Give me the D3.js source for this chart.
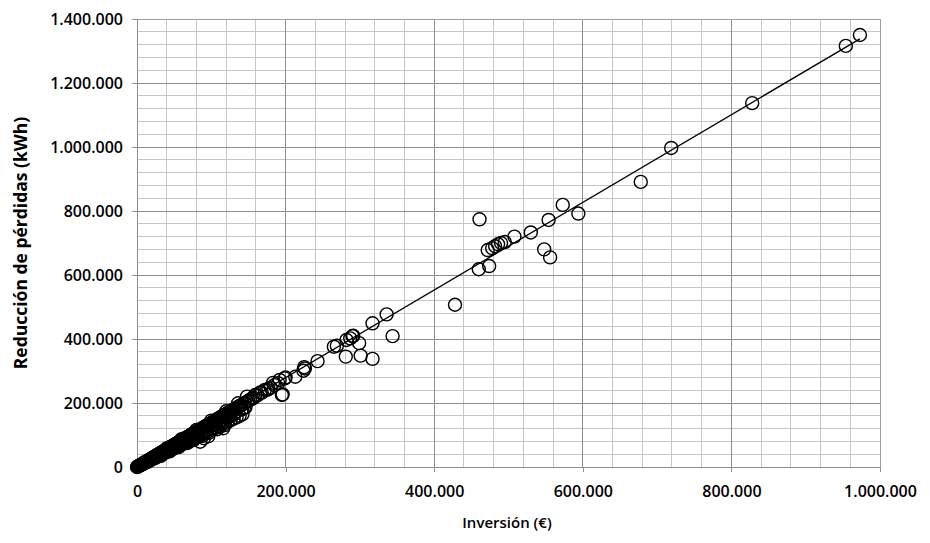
<!DOCTYPE html>
<html>
<head>
<meta charset="utf-8">
<script src="https://cdn.jsdelivr.net/npm/d3@7"></script>
<style>
  html, body { margin: 0; padding: 0; background: #fff; }
  svg { display: block; font-family: "Open Sans", "Noto Sans", sans-serif; }
</style>
</head>
<body>
<svg id="chart" width="930" height="543"></svg>
<script>
// ---- Data ----
const xTickValues = [0, 200000, 400000, 600000, 800000, 1000000];
const yTickValues = [0, 200000, 400000, 600000, 800000, 1000000, 1200000, 1400000];
const xTitle = "Inversión (€)";
const yTitle = "Reducción de pérdidas (kWh)";

// Inversión (€) and Reducción de pérdidas (kWh), in thousands
const inversionK = [
  0, 0.5, 1, 2, 3, 4, 5, 5, 6, 7, 8, 8, 9, 10, 10, 11, 12, 12, 13, 14, 15, 15, 16, 17, 18, 18, 19, 20, 20,
  21, 22, 23, 23, 24, 25, 25, 26, 27, 28, 28, 29, 30, 30, 31, 32, 33, 33, 34, 35, 35, 36, 37, 38, 38, 39,
  40, 40, 41, 42, 43, 43, 44, 45, 45, 46, 47, 48, 48, 49, 50, 50, 51, 52, 53, 53, 54, 55, 55, 56, 57, 58,
  58, 59, 60, 60, 61, 62, 63, 63, 64, 65, 65, 66, 67, 68, 68, 69, 70, 70, 71, 72, 73, 73, 74, 75, 75, 76,
  77, 78, 78, 79, 80, 80, 81, 82, 83, 83, 84, 85, 85, 86, 87, 88, 88, 89, 90, 90, 91, 92, 93, 93, 94, 95,
  96, 97, 98, 99, 100, 100, 102, 103, 104, 105, 106, 107, 108, 109, 110, 110, 112, 112, 113, 114, 115, 115,
  116, 117, 118, 119, 120, 121, 122, 123, 125, 125, 126, 127, 128, 130, 130, 132, 133, 135, 136, 137, 138,
  140, 141, 143, 145, 146, 148, 148, 150, 152, 155, 157, 159, 162, 166, 168, 172, 175, 177, 180, 183, 185,
  190, 192, 195, 196, 199, 200, 213, 224, 225, 226, 243, 265, 269, 281, 282, 287, 290, 291, 299, 301, 317,
  317, 336, 344, 428, 460, 461, 474, 472, 478, 482, 486, 490, 495, 508, 530, 548, 554, 556, 573, 594, 678,
  719, 828, 954, 973,
  22, 26, 30, 34, 38, 42, 46, 50, 54, 58, 62, 66, 70, 74, 78, 82, 86, 90, 94, 98, 102, 106, 110, 114, 118,
  122, 126, 130, 134, 138, 142, 32, 44, 56, 68, 76, 88, 97, 108, 118, 40, 60, 80, 100, 120,
  64, 72, 84, 92, 104, 112, 124, 132, 144
];
const reduccionK = [
  0, 0.3, 1.5, 2.5, 4, 5, 7, 6, 8, 9, 11, 10, 12, 13, 14, 15, 16, 14, 18, 19, 20, 17, 22, 23, 24, 21, 26, 27, 25,
  29, 30, 31, 27, 33, 34, 31, 36, 37, 38, 34, 40, 41, 37, 43, 44, 45, 40, 47, 48, 44, 49, 51, 52, 46, 54,
  55, 50, 56, 58, 59, 53, 61, 62, 55, 63, 65, 66, 58, 67, 69, 62, 70, 72, 73, 64, 74, 76, 68, 77, 79, 80,
  70, 81, 83, 74, 84, 85, 87, 76, 88, 90, 79, 91, 92, 94, 82, 95, 96, 85, 98, 99, 101, 88, 102, 103, 91, 105,
  106, 107, 94, 109, 110, 97, 111, 113, 114, 100, 116, 117, 79, 118, 120, 121, 106, 122, 124, 90, 125, 127, 128, 112, 129, 131,
  96, 133, 135, 136, 138, 120, 140, 142, 143, 145, 130, 148, 149, 150, 152, 138, 155, 126, 156, 157, 159, 145,
  121, 162, 163, 150, 166, 167, 155, 170, 172, 173, 160, 176, 177, 179, 165, 182, 184, 186, 199, 189, 190,
  193, 180, 197, 200, 186, 204, 220, 207, 210, 214, 216, 225, 224, 233, 232, 241, 241, 244, 248, 263, 256,
  262, 272, 225, 227, 277, 280, 282, 301, 312, 308, 331, 376, 379, 345, 397, 402, 409, 410, 387, 348, 338,
  449, 477, 409, 507, 618, 774, 628, 678, 684, 690, 696, 700, 703, 720, 733, 680, 772, 655, 819, 792, 891,
  997, 1137, 1316, 1350,
  26, 30, 35, 40, 45, 49, 54, 58, 63, 68, 72, 77, 81, 86, 90, 95, 100, 104, 109, 114, 118, 123, 128, 132, 137,
  141, 146, 151, 155, 160, 165, 35, 49, 62, 75, 84, 97, 107, 118, 131, 58, 87, 116, 145, 174,
  80, 92, 107, 118, 133, 143, 158, 168, 184
];

// Linear trendline
const trendSlope = 1.37;
const trendIntercept = 5000;

// ---- Drawing ----
const points = inversionK.map((v, i) => ({ x: v * 1000, y: reduccionK[i] * 1000 }));

const svg = d3.select("#chart");
const mLeft = 137, mRight = 880, mTop = 19, mBottom = 467;

const x = d3.scaleLinear().domain([0, 1000000]).range([mLeft, mRight]);
const y = d3.scaleLinear().domain([0, 1400000]).range([mBottom, mTop]);

const locale = d3.formatLocale({ decimal: ",", thousands: ".", grouping: [3], currency: ["", "€"] });
const fmt = locale.format(",d");

// minor grid (every 40.000)
const minorX = d3.range(0, 1000001, 40000);
const minorY = d3.range(0, 1400001, 40000);
svg.append("g").selectAll("line").data(minorX).join("line")
  .attr("x1", d => x(d)).attr("x2", d => x(d)).attr("y1", mTop).attr("y2", mBottom)
  .attr("stroke", "#c6c6c6").attr("stroke-width", 1).attr("shape-rendering", "crispEdges");
svg.append("g").selectAll("line").data(minorY).join("line")
  .attr("x1", mLeft).attr("x2", mRight).attr("y1", d => y(d)).attr("y2", d => y(d))
  .attr("stroke", "#c6c6c6").attr("stroke-width", 1).attr("shape-rendering", "crispEdges");

// major grid
svg.append("g").selectAll("line").data(xTickValues).join("line")
  .attr("x1", d => x(d)).attr("x2", d => x(d)).attr("y1", mTop).attr("y2", mBottom)
  .attr("stroke", "#8e8e8e").attr("stroke-width", 1).attr("shape-rendering", "crispEdges");
svg.append("g").selectAll("line").data(yTickValues).join("line")
  .attr("x1", mLeft).attr("x2", mRight).attr("y1", d => y(d)).attr("y2", d => y(d))
  .attr("stroke", "#8e8e8e").attr("stroke-width", 1).attr("shape-rendering", "crispEdges");

// plot border
svg.append("rect").attr("x", mLeft).attr("y", mTop).attr("width", mRight - mLeft).attr("height", mBottom - mTop)
  .attr("fill", "none").attr("stroke", "#a0a0a0").attr("shape-rendering", "crispEdges");

// axes
const xAxis = d3.axisBottom(x).tickValues(xTickValues).tickFormat(fmt).tickSize(5).tickPadding(14);
const yAxis = d3.axisLeft(y).tickValues(yTickValues).tickFormat(fmt).tickSize(5).tickPadding(9);

const gx = svg.append("g").attr("transform", `translate(0,${mBottom})`).call(xAxis);
const gy = svg.append("g").attr("transform", `translate(${mLeft},0)`).call(yAxis);
[gx, gy].forEach(g => {
  g.select(".domain").attr("stroke", "#8e8e8e").attr("shape-rendering", "crispEdges");
  g.selectAll(".tick line").attr("stroke", "#8e8e8e").attr("shape-rendering", "crispEdges");
  g.selectAll(".tick text").attr("fill", "#000").attr("font-size", 16).attr("font-weight", 600)
    .attr("font-family", "'Open Sans', sans-serif");
});

// trendline
const xMax = d3.max(points, d => d.x);
svg.append("line")
  .attr("x1", x(0)).attr("y1", y(trendIntercept))
  .attr("x2", x(xMax)).attr("y2", y(trendSlope * xMax + trendIntercept))
  .attr("stroke", "#000").attr("stroke-width", 1.3);

// points
svg.append("g").selectAll("circle").data(points).join("circle")
  .attr("cx", d => x(d.x)).attr("cy", d => y(d.y)).attr("r", 6.5)
  .attr("fill", "none").attr("stroke", "#000").attr("stroke-width", 1.4);

// titles
svg.append("text").attr("x", 507).attr("y", 528).attr("text-anchor", "middle")
  .attr("font-size", 15).attr("font-weight", 600).attr("fill", "#000").text(xTitle);
svg.append("text").attr("transform", "translate(27,243) rotate(-90)").attr("text-anchor", "middle")
  .attr("font-size", 17.5).attr("font-weight", 700).attr("fill", "#000").text(yTitle);
</script>
</body>
</html>
